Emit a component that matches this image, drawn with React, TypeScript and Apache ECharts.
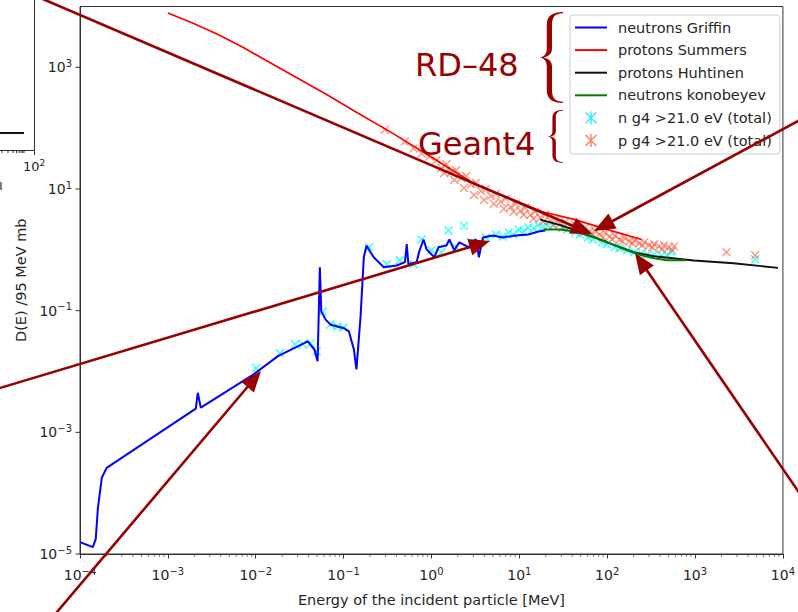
import { useEffect, useRef } from "react";
import * as echarts from "echarts";

const FONT = '"DejaVu Sans", "Liberation Sans", sans-serif';
const DARK = "#990000";
const AX = "#333333";
const TXT = "#262626";

// ---- data: [energy MeV, D(E)/95 MeV mb] ----
const griffinN: number[][] = [
  [1.0e-4, 1.57e-5], [1.4e-4, 1.3e-5], [1.51e-4, 1.75e-5], [1.6e-4, 5.8e-5], [1.77e-4, 1.79e-4],
  [2.01e-4, 2.6e-4], [2.08e-3, 2.45e-3], [2.19e-3, 4.47e-3], [2.37e-3, 2.55e-3], [8.89e-3, 8.45e-3],
  [1.79e-2, 1.79e-2], [3.91e-2, 3.13e-2], [4.65e-2, 2.3e-2], [5.06e-2, 1.48e-2], [5.37e-2, 0.519],
  [5.57e-2, 0.0964], [6.28e-2, 0.0706], [7.15e-2, 0.0585], [0.101, 0.0515], [0.115, 0.0456],
  [0.131, 0.023], [0.14, 0.01086], [0.156, 0.0798], [0.17, 0.755], [0.182, 1.17], [0.22, 0.755],
  [0.286, 0.519], [0.403, 0.553], [0.5, 0.627], [0.523, 1.24], [0.546, 0.587], [0.678, 0.627],
  [0.733, 0.982], [0.813, 1.48], [0.879, 1.02], [1.08, 0.755], [1.2, 1.1], [1.48, 1.18], [1.6, 1.48],
  [1.82, 0.982], [2.07, 1.33], [2.68, 1.1], [3.21, 1.48], [3.47, 0.755], [3.85, 1.6], [5.0, 1.72],
  [6.48, 1.6], [9.08, 1.72], [12.7, 1.79], [16.5, 2.0], [19.8, 2.08],
];
const summersP: number[][] = [
  [1.0e-3, 7830], [1.88e-3, 5400], [3.78e-3, 3440], [7.23e-3, 2110], [1.38e-2, 1250], [3.01e-2, 662],
  [6.56e-2, 351], [0.143, 179], [0.337, 87.7], [1.14, 29.6], [3.21, 11.6], [7.57, 7.14], [18.3, 4.23],
  [43.0, 3.13], [101, 2.15], [245, 1.48],
];
const huhtinenP: number[][] = [
  [17.3, 3.13], [30.7, 2.5], [55.7, 1.85], [107, 1.28], [204, 0.91], [343, 0.783], [969, 0.667],
  [2735, 0.602], [8790, 0.506],
];
const konobeyevN: number[][] = [
  [18.7, 2.15], [29.2, 2.15], [43.0, 2.0], [66.9, 1.66], [101, 1.33], [157, 1.02], [245, 0.814],
  [343, 0.728], [481, 0.675], [787, 0.675],
];
const g4N: number[][] = [
  [0.0101, 0.0114], [0.0189, 0.02], [0.0279, 0.028], [0.0343, 0.028], [0.0422, 0.029], [0.0493, 0.0215],
  [0.0577, 0.0964], [0.071, 0.0592], [0.0851, 0.0549], [0.0994, 0.053], [0.195, 1.1], [0.311, 0.581],
  [0.436, 0.675], [0.627, 0.581], [0.771, 1.48], [1.0, 0.982], [1.3, 0.91], [1.56, 2.08], [1.91, 1.1],
  [2.35, 2.5], [2.82, 1.33], [4.17, 1.6], [5.4, 1.79], [6.48, 1.66], [7.57, 1.93], [8.61, 1.79],
  [9.81, 2.15], [11.2, 2.0], [12.7, 2.32], [14.5, 2.24], [16.5, 2.5], [18.7, 2.41], [21.4, 2.5],
  [24.3, 2.5], [30.7, 2.32], [35.0, 2.15], [43.0, 1.93], [49.0, 1.79], [60.3, 1.6], [68.7, 1.48],
  [86.7, 1.33], [98.7, 1.23], [122, 1.1], [138, 1.06], [170, 0.982], [204, 0.91], [245, 0.877],
  [286, 0.845], [343, 0.845], [411, 0.814], [481, 0.814], [533, 0.91], [4840, 0.702],
];
const g4P: number[][] = [
  [0.295, 94.6], [0.496, 60.3], [0.627, 46.4], [0.771, 38.5], [0.949, 34.4], [1.14, 29.6], [1.3, 21.9],
  [1.48, 25.5], [1.68, 18.9], [1.91, 20.4], [2.18, 15.1], [2.48, 16.3], [2.82, 12.0], [3.21, 12.5],
  [3.66, 9.27], [4.17, 10.0], [4.74, 7.69], [5.4, 8.3], [6.15, 6.15], [7.0, 6.88], [7.96, 5.09],
  [9.08, 5.7], [10.3, 4.39], [11.7, 4.91], [13.4, 3.78], [15.2, 4.23], [17.3, 3.37], [19.8, 3.78],
  [22.5, 3.02], [25.6, 3.25], [29.2, 2.7], [33.2, 2.9], [37.8, 2.41], [43.0, 2.6], [49.0, 2.15],
  [55.7, 2.32], [63.5, 2.0], [72.3, 2.08], [82.3, 1.79], [93.7, 1.93], [107, 1.66], [122, 1.72],
  [138, 1.48], [157, 1.6], [179, 1.37], [204, 1.43], [232, 1.28], [265, 1.33], [301, 1.18], [343, 1.23],
  [391, 1.14], [445, 1.18], [506, 1.1], [577, 1.14], [2280, 0.91], [4840, 0.814],
  [1.4, 18.2], [1.82, 14.0], [2.35, 10.4], [3.05, 7.98], [3.96, 6.62], [5.13, 5.7], [6.65, 4.73],
  [8.61, 4.23], [11.2, 3.78], [14.5, 3.25], [18.7, 2.9], [24.3, 2.6], [31.5, 2.32], [40.9, 2.15],
  [53.0, 1.93], [68.7, 1.79], [89.0, 1.6], [115, 1.48], [150, 1.37], [194, 1.28], [251, 1.18],
  [326, 1.1], [422, 1.02], [547, 0.982],
];

const seriesNames = [
  "neutrons Griffin",
  "protons Summers",
  "protons Huhtinen",
  "neutrons konobeyev",
  "n g4 >21.0 eV (total)",
  "p g4 >21.0 eV (total)",
];
const xTickExponents = [-4, -3, -2, -1, 0, 1, 2, 3, 4];
const yTickExponents = [-5, -3, -1, 1, 3];
const minorMultipliers = [2, 3, 4, 5, 6, 7, 8, 9];

// annotation geometry (pixels)
const arrows = [
  { from: [45, 0], to: [592, 234] },
  { from: [798, 121], to: [594, 231] },
  { from: [0, 388], to: [490, 241] },
  { from: [57, 612], to: [261, 371] },
  { from: [798, 491], to: [635, 253] },
];

const BRACE_D =
  "M22,0 C14,0 6.5,3 6.5,14 L6.5,40 C6.5,46 4,49 0,50 C4,51 6.5,54 6.5,60 L6.5,86 C6.5,97 14,100 22,100 " +
  "L22,98.5 C15,98.5 11.5,95 11.5,86 L11.5,60 C11.5,54 8,51 3,50 C8,49 11.5,46 11.5,40 L11.5,14 C11.5,5 15,1.5 22,1.5 Z";

let braceRegistered = false;
function ensureBrace() {
  if (braceRegistered) return;
  try {
    echarts.graphic.registerShape("brace", (echarts.graphic as any).extendPath(BRACE_D, {}));
  } catch (e) {}
  braceRegistered = true;
}

const sup = (e: number) => (e < 0 ? "\u2212" + Math.abs(e) : String(e));
const toLog = (pts: number[][]) => pts.map(([x, y]) => [Math.log10(x), Math.log10(y)]);

const X_SYM = "path://M0,0L10,10M10,0L0,10";
const LEG_SYM = "path://M0,1L10,11M10,1L0,11M5,0L5,12";
const LEG_LINE = "path://M0,0L32,0L32,2L0,2Z";

function arrowGraphics() {
  const out: any[] = [];
  arrows.forEach((a) => {
    const [fx, fy] = a.from;
    const [tx, ty] = a.to;
    const dx = tx - fx, dy = ty - fy;
    const len = Math.hypot(dx, dy);
    const ux = dx / len, uy = dy / len;
    const px = -uy, py = ux;
    const hl = 21, hw = 8.5;
    const bx = tx - ux * hl, by = ty - uy * hl;
    out.push({
      type: "line", z: 100, silent: true,
      shape: { x1: fx - ux * 40, y1: fy - uy * 40, x2: bx + ux * 2, y2: by + uy * 2 },
      style: { stroke: DARK, lineWidth: 2.6 },
    });
    out.push({
      type: "polygon", z: 100, silent: true,
      shape: { points: [[tx, ty], [bx + px * hw, by + py * hw], [bx - px * hw, by - py * hw]] },
      style: { fill: DARK },
    });
  });
  return out;
}

function insetGraphics() {
  const g: any[] = [];
  const st = { stroke: AX, lineWidth: 1 };
  g.push({ type: "line", silent: true, shape: { x1: 34.5, y1: 0, x2: 34.5, y2: 150.5 }, style: st });
  g.push({ type: "line", silent: true, shape: { x1: 0, y1: 150.5, x2: 34.5, y2: 150.5 }, style: st });
  [2, 8, 13, 16.5, 19, 21, 22.7, 24].forEach((x) =>
    g.push({ type: "line", silent: true, shape: { x1: x, y1: 150.5, x2: x, y2: 153 }, style: st })
  );
  g.push({ type: "line", silent: true, shape: { x1: 34.5, y1: 150.5, x2: 34.5, y2: 155 }, style: st });
  g.push({ type: "line", silent: true, shape: { x1: 0, y1: 133, x2: 24, y2: 133 }, style: { stroke: "#111", lineWidth: 2 } });
  g.push({
    type: "text", silent: true, x: 34, y: 166,
    style: {
      text: "{b|10}{s|2}", align: "center", verticalAlign: "middle",
      rich: {
        b: { fontSize: 13, fontFamily: FONT, fill: TXT },
        s: { fontSize: 9, fontFamily: FONT, fill: TXT, padding: [0, 0, 7, 0] },
      },
    },
  });
  g.push({ type: "line", silent: true, shape: { x1: 1, y1: 182, x2: 1, y2: 190 }, style: { stroke: TXT, lineWidth: 1.2 } });
  return g;
}

export default function App() {
  const ref = useRef<HTMLDivElement>(null);
  useEffect(() => {
    if (!ref.current) return;
    ensureBrace();
    const chart = echarts.init(ref.current, undefined, { renderer: "svg" });

    const minorData: number[][] = [];
    xTickExponents.slice(0, -1).forEach((e) =>
      minorMultipliers.forEach((m) => minorData.push([e + Math.log10(m), -5]))
    );
    const yTickData = yTickExponents.map((e) => [-4, e]);

    const rich = {
      b: { fontSize: 14, fontFamily: FONT, color: TXT },
      s: { fontSize: 10, fontFamily: FONT, color: TXT, padding: [0, 0, 8, 0] },
    };

    const lineSeries = (name: string, data: number[][], color: string, width: number) => ({
      name, type: "line", data: toLog(data), symbol: "none", showSymbol: false,
      lineStyle: { color, width }, itemStyle: { color }, silent: true, clip: true,
    });
    const scatterSeries = (name: string, data: number[][], color: string) => ({
      name, type: "scatter", data: toLog(data), symbol: X_SYM, symbolSize: 8, symbolKeepAspect: true,
      itemStyle: { color: "rgba(0,0,0,0)", borderColor: color, borderWidth: 1.4 }, silent: true,
    });
    const lineLegend = (name: string, color: string) => ({
      name, icon: LEG_LINE, itemStyle: { color, borderWidth: 0 },
    });

    const option: any = {
      animation: false,
      grid: { left: 80, right: 8, top: 6.5, bottom: 52, show: true, borderColor: AX, borderWidth: 1, backgroundColor: "transparent" },
      xAxis: {
        type: "value", min: -4, max: 4, interval: 1,
        axisLine: { show: true, onZero: false, lineStyle: { color: AX, width: 1 } },
        axisTick: { show: true, length: 4.5, lineStyle: { color: AX } },
        splitLine: { show: false },
        axisLabel: {
          margin: 12,
          formatter: (v: number) => `{b|10}{s|${sup(Math.round(v))}}`,
          rich,
        },
        name: "Energy of the incident particle [MeV]", nameLocation: "middle", nameGap: 38,
        nameTextStyle: { fontSize: 14.5, fontFamily: FONT, color: TXT },
      },
      yAxis: {
        type: "value", min: -5, max: 4, interval: 1,
        axisLine: { show: true, onZero: false, lineStyle: { color: AX, width: 1 } },
        axisTick: { show: false },
        splitLine: { show: false },
        axisLabel: {
          margin: 8,
          formatter: (v: number) => {
            const e = Math.round(v);
            return Math.abs(e) % 2 === 1 ? `{b|10}{s|${sup(e)}}` : "";
          },
          rich,
        },
        name: "D(E) /95 MeV mb", nameLocation: "middle", nameGap: 52,
        nameTextStyle: { fontSize: 14.5, fontFamily: FONT, color: TXT },
      },
      legend: {
        orient: "vertical", left: 570, top: 15, padding: [5, 8, 6, 5], itemGap: 7.6,
        itemWidth: 32, itemHeight: 13, symbolKeepAspect: true,
        backgroundColor: "rgba(255,255,255,0.9)", borderColor: "#cccccc", borderWidth: 1, borderRadius: 3,
        textStyle: { fontSize: 14.5, fontFamily: FONT, color: TXT, padding: [0, 0, 0, 6] },
        data: [
          lineLegend(seriesNames[0], "#0000ff"),
          lineLegend(seriesNames[1], "#ff0000"),
          lineLegend(seriesNames[2], "#111111"),
          lineLegend(seriesNames[3], "#008000"),
          { name: seriesNames[4], icon: LEG_SYM, itemStyle: { color: "rgba(0,0,0,0)", borderColor: "#00e5ff", borderWidth: 1.5 } },
          { name: seriesNames[5], icon: LEG_SYM, itemStyle: { color: "rgba(0,0,0,0)", borderColor: "#ff6347", borderWidth: 1.5 } },
        ],
        selectedMode: false,
      },
      series: [
        lineSeries(seriesNames[0], griffinN, "#0000ff", 2),
        lineSeries(seriesNames[1], summersP, "#ff0000", 1.7),
        lineSeries(seriesNames[2], huhtinenP, "#111111", 1.9),
        lineSeries(seriesNames[3], konobeyevN, "#008000", 2),
        scatterSeries(seriesNames[4], g4N, "#00ffff"),
        scatterSeries(seriesNames[5], g4P, "rgba(255,99,71,0.85)"),
        {
          type: "custom", silent: true, clip: false, data: minorData,
          renderItem: (_p: any, api: any) => {
            const c = api.coord([api.value(0), api.value(1)]);
            return { type: "line", shape: { x1: c[0], y1: c[1], x2: c[0], y2: c[1] + 2.6 }, style: { stroke: AX, lineWidth: 0.8 } };
          },
        },
        {
          type: "custom", silent: true, clip: false, data: yTickData,
          renderItem: (_p: any, api: any) => {
            const c = api.coord([api.value(0), api.value(1)]);
            return { type: "line", shape: { x1: c[0] - 4.5, y1: c[1], x2: c[0], y2: c[1] }, style: { stroke: AX, lineWidth: 1 } };
          },
        },
      ],
      graphic: [
        ...insetGraphics(),
        {
          type: "text", z: 100, silent: true, x: 415, y: 65,
          style: { text: "RD\u201348", fontSize: 32, fontFamily: FONT, fill: DARK, align: "left", verticalAlign: "middle" },
        },
        {
          type: "text", z: 100, silent: true, x: 418, y: 144,
          style: { text: "Geant4", fontSize: 32, fontFamily: FONT, fill: DARK, align: "left", verticalAlign: "middle" },
        },
        { type: "brace", z: 100, silent: true, x: 540, y: 12, scaleX: 23 / 22, scaleY: 91 / 100, style: { fill: DARK } },
        { type: "brace", z: 100, silent: true, x: 548, y: 110, scaleX: 15 / 22, scaleY: 53 / 100, style: { fill: DARK } },
        ...arrowGraphics(),
      ],
    };
    chart.setOption(option);
    return () => chart.dispose();
  }, []);
  return (
    <div
      ref={ref}
      style={{ position: "fixed", left: 0, top: 0, width: 798, height: 612, background: "#ffffff" }}
    />
  );
}
